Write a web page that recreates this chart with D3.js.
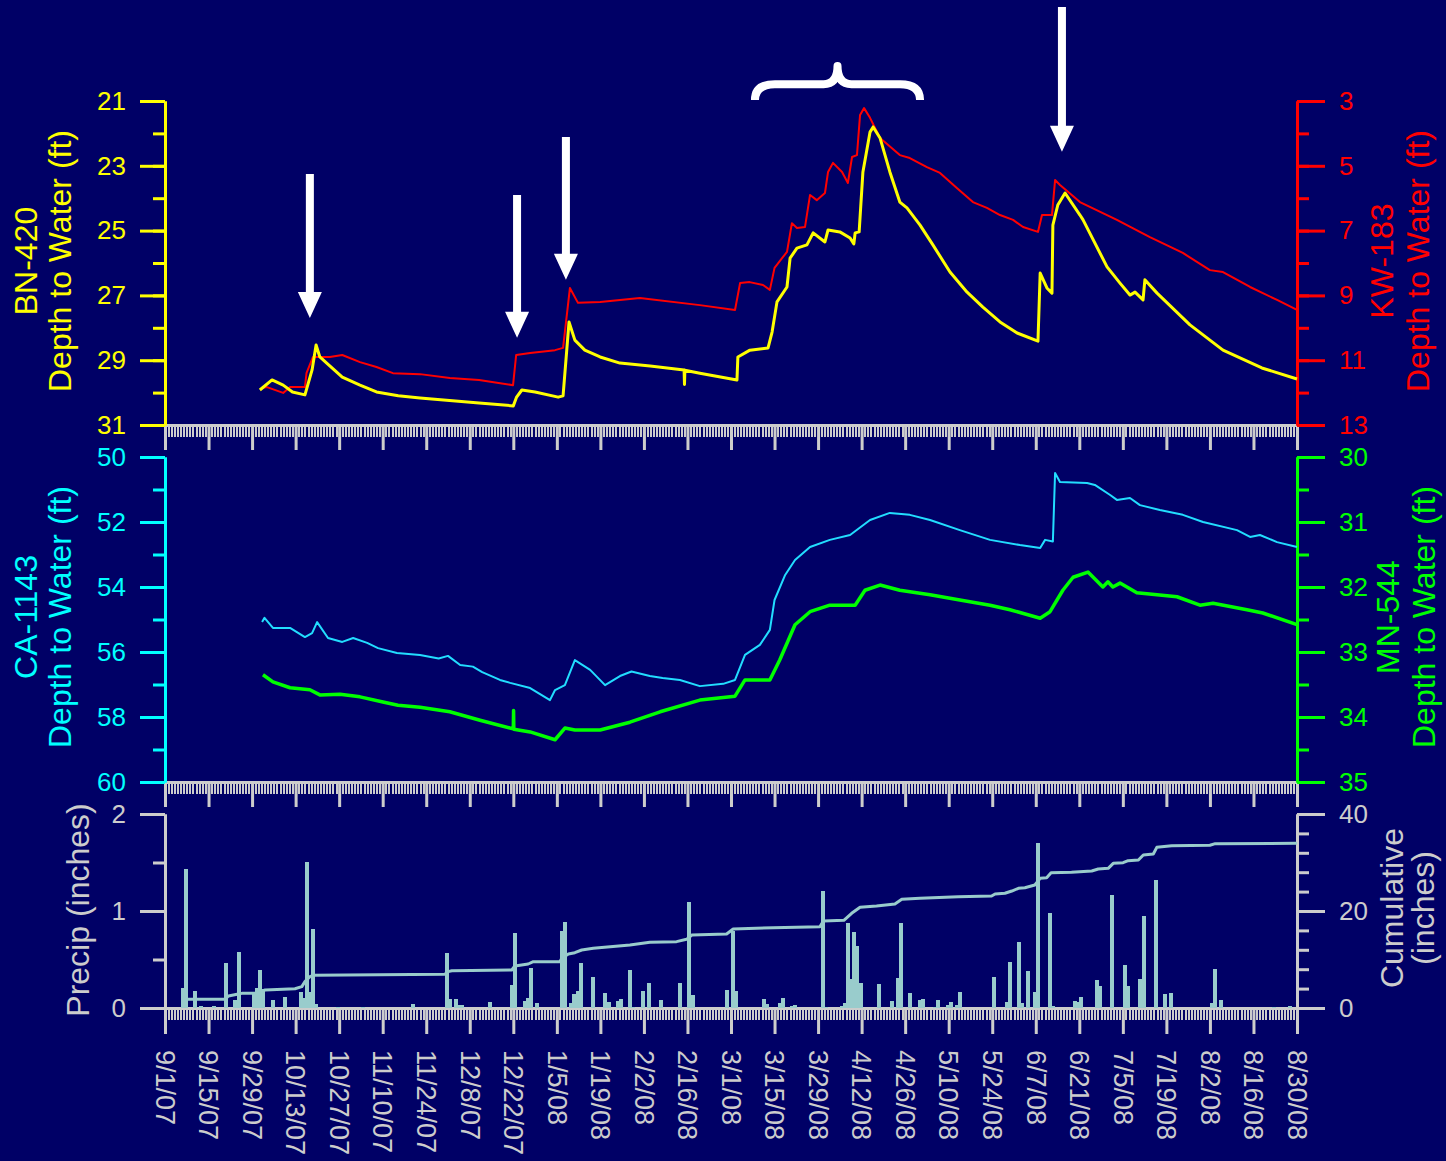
<!DOCTYPE html>
<html>
<head>
<meta charset="utf-8">
<script src="https://cdn.jsdelivr.net/npm/d3@7"></script>
<style>
  body { margin: 0; background: #000066; }
  svg { display: block; font-family: "Liberation Sans", Arial, sans-serif; }
</style>
</head>
<body>
<svg id="chart" width="1446" height="1161"></svg>
<script>
// ---- data ----
var dateTicks = ["9/1/07", "9/15/07", "9/29/07", "10/13/07", "10/27/07", "11/10/07", "11/24/07",
  "12/8/07", "12/22/07", "1/5/08", "1/19/08", "2/2/08", "2/16/08", "3/1/08", "3/15/08", "3/29/08",
  "4/12/08", "4/26/08", "5/10/08", "5/24/08", "6/7/08", "6/21/08", "7/5/08", "7/19/08", "8/2/08",
  "8/16/08", "8/30/08"];

// BN-420 depth to water (ft), left axis of top panel
var bnDates = ["10/1/07 12", "10/5/07 10", "10/9/07", "10/12/07", "10/16/07", "10/18/07 7", "10/19/07 14",
  "10/20/07 19", "10/23/07", "10/28/07", "11/2/07 17", "11/8/07", "11/15/07", "11/22/07", "12/11/07",
  "12/22/07", "12/23/07", "12/24/07 18", "12/29/07", "1/5/08 10", "1/7/08", "1/8/08 22", "1/10/08 19",
  "1/14/08", "1/18/08 22", "1/25/08 7", "2/4/08", "2/14/08 22", "2/15/08 1", "2/15/08 4", "2/20/08",
  "3/2/08 22", "3/3/08 5", "3/7/08 2", "3/12/08 22", "3/14/08 5", "3/15/08 19", "3/19/08", "3/20/08",
  "3/22/08 5", "3/25/08 10", "3/27/08 10", "3/31/08 5", "4/1/08 5", "4/5/08", "4/8/08 7", "4/9/08 12",
  "4/9/08 22", "4/11/08 5", "4/12/08 10", "4/14/08 17", "4/15/08 17", "4/17/08 22", "4/21/08 2",
  "4/24/08 7", "4/26/08 14", "4/30/08 19", "5/4/08 22", "5/10/08 10", "5/15/08 22", "5/21/08",
  "5/26/08 12", "6/1/08", "6/7/08 17", "6/8/08 10", "6/10/08 14", "6/12/08 5", "6/12/08 12",
  "6/14/08 2", "6/16/08 10", "6/21/08 5", "6/22/08 5", "6/29/08 22", "7/4/08 2", "7/7/08 7",
  "7/8/08 22", "7/11/08 12", "7/12/08 2", "7/16/08", "7/26/08 14", "8/6/08 5", "8/18/08 17", "8/30/08"];
var bnDepth = [29.92, 29.61, 29.77, 29.98, 30.07, 29.30, 28.53,
  28.90, 29.09, 29.52, 29.77, 29.98, 30.10, 30.17, 30.32,
  30.41, 30.15, 29.92, 29.98, 30.14, 30.10, 27.82, 28.38,
  28.69, 28.90, 29.09, 29.18, 29.30, 29.75, 29.31, 29.40,
  29.61, 28.90, 28.69, 28.62, 28.13, 27.20, 26.74, 25.85,
  25.54, 25.44, 25.07, 25.35, 24.98, 25.04, 25.23, 25.41,
  25.07, 25.04, 23.19, 21.96, 21.80, 22.14, 23.19,
  24.12, 24.30, 24.83, 25.44, 26.28, 26.90, 27.36,
  27.82, 28.16, 28.41, 26.31, 26.77, 26.93, 24.83,
  24.21, 23.84, 24.52, 24.67, 26.12, 26.62, 26.99,
  26.90, 27.14, 26.52, 26.93, 27.91, 28.69, 29.24, 29.58];

// KW-183 depth to water (ft), right axis of top panel
var kwDates = ["10/2/07 5", "10/3/07 19", "10/9/07", "10/11/07 5", "10/16/07", "10/16/07 12", "10/18/07 14",
  "10/24/07", "10/28/07", "11/2/07 17", "11/8/07", "11/13/07 7", "11/22/07", "12/1/07 14", "12/11/07",
  "12/21/07 22", "12/22/07 22", "12/27/07 10", "1/4/08 10", "1/7/08", "1/9/08 5", "1/11/08 19",
  "1/18/08 22", "1/31/08 17", "2/20/08", "3/2/08 7", "3/3/08 22", "3/7/08", "3/11/08 7", "3/13/08 12",
  "3/15/08", "3/17/08 10", "3/19/08", "3/20/08 14", "3/22/08 5", "3/24/08 19", "3/26/08 10",
  "3/28/08 14", "3/31/08 5", "4/1/08 5", "4/2/08 19", "4/5/08 17", "4/7/08 14", "4/8/08 22",
  "4/10/08 12", "4/11/08 12", "4/12/08 19", "4/14/08 17", "4/17/08 22", "4/24/08 7", "4/27/08 12",
  "5/3/08", "5/7/08 5", "5/12/08 17", "5/17/08 19", "5/22/08 7", "5/26/08 12", "5/30/08 17",
  "6/2/08 22", "6/7/08 17", "6/9/08", "6/12/08 5", "6/13/08 5", "6/14/08 19", "6/21/08 5",
  "7/3/08 2", "7/13/08 17", "7/24/08 7", "8/2/08", "8/6/08 5", "8/14/08 22", "8/23/08 14", "8/30/08"];
var kwDepth = [11.86, 11.83, 12.01, 11.83, 11.83, 11.40, 10.90,
  10.90, 10.84, 11.06, 11.21, 11.40, 11.43, 11.55, 11.61,
  11.77, 10.84, 10.78, 10.69, 10.62, 8.77, 9.23,
  9.20, 9.08, 9.30, 9.45, 8.62, 8.59, 8.68, 8.83,
  8.15, 7.85, 7.66, 6.77, 6.92, 6.89, 5.90,
  6.06, 5.84, 5.19, 4.91, 5.19, 5.53, 4.73,
  4.67, 3.43, 3.22, 3.52, 4.14, 4.67, 4.76,
  5.04, 5.22, 5.69, 6.12, 6.30, 6.52, 6.67,
  6.89, 7.04, 6.52, 6.52, 5.44, 5.59, 6.12,
  6.67, 7.20, 7.69, 8.22, 8.28, 8.74, 9.14, 9.45];

// CA-1143 depth to water (ft), left axis of middle panel
var caDates = ["10/2/07 5", "10/3/07", "10/5/07 17", "10/11/07 5", "10/16/07", "10/18/07 7", "10/19/07 22",
  "10/23/07 10", "10/28/07", "10/31/07 12", "11/5/07", "11/8/07 12", "11/14/07 14", "11/22/07",
  "11/28/07", "12/1/07", "12/4/07 22", "12/9/07", "12/12/07", "12/17/07 17", "12/21/07", "12/27/07 10",
  "1/2/08 19", "1/4/08 10", "1/7/08 14", "1/10/08 19",
  "1/15/08 17", "1/20/08 12", "1/25/08 7", "1/29/08", "2/3/08 22", "2/8/08", "2/13/08 14", "2/20/08",
  "2/27/08 12",
  "3/2/08 7", "3/5/08 12", "3/10/08 7", "3/13/08 12", "3/15/08", "3/18/08 10", "3/21/08 14",
  "3/26/08 10", "4/1/08 19", "4/8/08 7", "4/14/08 17", "4/21/08 2", "4/27/08 12", "5/4/08",
  "5/13/08 14", "5/23/08 7", "6/1/08 22", "6/8/08 10", "6/10/08", "6/12/08 12", "6/13/08 5",
  "6/14/08 19", "6/23/08 12", "6/26/08", "6/30/08 22", "7/3/08 2", "7/7/08 7", "7/10/08 12",
  "7/16/08 22", "7/24/08 7", "7/30/08 19", "8/10/08 17", "8/14/08 22", "8/18/08 2", "8/23/08 14", "8/30/08"];
var caDepth = [55.08, 54.95, 55.26, 55.26, 55.54, 55.42, 55.08,
  55.57, 55.69, 55.57, 55.72, 55.88, 56.03, 56.09,
  56.20, 56.12, 56.40, 56.45, 56.62, 56.86, 56.95, 57.11,
  57.48, 57.17, 57.02, 56.25,
  56.55, 57.02, 56.74, 56.60, 56.74, 56.80, 56.86, 57.05,
  56.98,
  56.86, 56.09, 55.78, 55.32, 54.40, 53.63, 53.17,
  52.77, 52.55, 52.40, 51.94, 51.72, 51.78, 51.94,
  52.25, 52.55, 52.71, 52.80, 52.55, 52.60, 50.49,
  50.77, 50.80, 50.86, 51.17, 51.32, 51.26, 51.48,
  51.63, 51.78, 52.00, 52.25, 52.46, 52.40, 52.62, 52.77];

// MN-544 depth to water (ft), right axis of middle panel
var mnDates = ["10/2/07 12", "10/5/07 17", "10/11/07 5", "10/17/07 14", "10/20/07 19", "10/27/07 7",
  "11/2/07 17", "11/10/07 2", "11/14/07 22", "11/22/07", "12/1/07 14", "12/11/07 7", "12/20/07 22",
  "12/22/07", "12/22/07 2", "12/22/07 4", "12/27/07 10", "1/4/08 10", "1/7/08 14", "1/10/08 19",
  "1/18/08 22", "1/28/08 12", "2/7/08 5", "2/20/08", "3/2/08 7", "3/5/08 12", "3/13/08 12",
  "3/16/08 17", "3/21/08 14", "3/26/08 10", "4/1/08 19", "4/9/08 22", "4/13/08 2", "4/17/08 22",
  "4/24/08 7", "5/4/08", "5/13/08 14", "5/23/08 7", "5/29/08 17", "6/8/08 10", "6/11/08 14",
  "6/15/08 17", "6/19/08", "6/23/08 19", "6/28/08 14", "6/30/08 5", "7/1/08 19", "7/4/08 2",
  "7/9/08 12", "7/16/08", "7/22/08 10", "7/29/08 19", "8/3/08", "8/13/08 22", "8/19/08", "8/30/08"];
var mnDepth = [33.35, 33.46, 33.55, 33.58, 33.66, 33.65,
  33.69, 33.77, 33.82, 33.85, 33.92, 34.05, 34.17,
  34.18, 33.90, 34.19, 34.23, 34.35, 34.17, 34.20,
  34.20, 34.08, 33.92, 33.74, 33.68, 33.43, 33.43,
  33.12, 32.58, 32.38, 32.28, 32.28, 32.05, 31.97,
  32.05, 32.12, 32.20, 32.28, 32.35, 32.48, 32.38,
  32.05, 31.85, 31.77, 32.00, 31.92, 32.00, 31.94,
  32.09, 32.12, 32.15, 32.28, 32.25, 32.35, 32.40, 32.58];

// daily precipitation (inches)
var precipDates = ["9/6/07", "9/7/07", "9/10/07", "9/12/07", "9/16/07", "9/20/07", "9/23/07", "9/24/07",
  "9/29/07", "9/30/07", "10/1/07", "10/2/07", "10/5/07", "10/9/07", "10/14/07", "10/15/07", "10/16/07",
  "10/17/07", "10/18/07", "10/19/07", "10/26/07", "11/3/07", "11/19/07", "11/30/07", "12/1/07",
  "12/3/07", "12/4/07", "12/5/07", "12/14/07", "12/21/07", "12/22/07", "12/25/07", "12/26/07",
  "12/27/07", "12/29/07", "1/6/08", "1/7/08", "1/9/08", "1/10/08", "1/11/08", "1/12/08", "1/16/08",
  "1/20/08", "1/21/08", "1/24/08", "1/25/08", "1/28/08", "1/29/08", "2/1/08", "2/3/08", "2/7/08",
  "2/13/08", "2/16/08", "2/17/08", "2/28/08", "3/1/08", "3/2/08", "3/11/08", "3/12/08", "3/16/08",
  "3/17/08", "3/20/08", "3/21/08", "3/30/08", "3/31/08", "4/5/08", "4/6/08", "4/7/08", "4/8/08",
  "4/9/08", "4/10/08", "4/11/08", "4/17/08", "4/21/08", "4/23/08", "4/24/08", "4/27/08", "4/30/08",
  "5/1/08", "5/5/08", "5/6/08", "5/9/08", "5/10/08", "5/12/08", "5/13/08", "5/24/08", "5/28/08",
  "5/29/08", "6/1/08", "6/2/08", "6/4/08", "6/6/08", "6/7/08", "6/11/08", "6/12/08", "6/19/08",
  "6/20/08", "6/21/08", "6/26/08", "6/27/08", "7/1/08", "7/5/08", "7/6/08", "7/10/08", "7/11/08",
  "7/15/08", "7/18/08", "7/20/08", "8/2/08", "8/3/08", "8/5/08", "8/22/08", "8/27/08"];
var precipInches = [0.21, 1.43, 0.18, 0.02, 0.02, 0.46, 0.08, 0.58,
  0.15, 0.21, 0.39, 0.20, 0.08, 0.11, 0.16, 0.10, 1.51,
  0.17, 0.81, 0.04, 0.01, 0.01, 0.04, 0.57, 0.09,
  0.09, 0.03, 0.03, 0.06, 0.24, 0.77, 0.07, 0.10,
  0.41, 0.05, 0.79, 0.89, 0.05, 0.14, 0.18, 0.46, 0.32,
  0.15, 0.06, 0.07, 0.09, 0.39, 0.01, 0.18, 0.26, 0.08,
  0.26, 1.09, 0.13, 0.19, 0.79, 0.18, 0.09, 0.04, 0.05,
  0.10, 0.02, 0.03, 1.21, 0.01, 0.02, 0.05, 0.88, 0.30,
  0.78, 0.64, 0.26, 0.25, 0.07, 0.31, 0.88, 0.15, 0.08,
  0.09, 0.01, 0.08, 0.03, 0.06, 0.03, 0.16, 0.32, 0.06,
  0.47, 0.68, 0.05, 0.38, 0.17, 1.70, 0.98, 0.02, 0.07,
  0.06, 0.11, 0.29, 0.23, 1.16, 0.44, 0.23, 0.30, 0.95,
  1.32, 0.14, 0.15, 0.05, 0.40, 0.08, 0.01, 0.02];

// cumulative precipitation (inches), right axis of bottom panel
var cumDates = ["9/7/07 17", "9/20/07 7", "9/21/07 10", "9/24/07 14", "9/25/07 17", "9/29/07 22",
  "10/3/07 5", "10/12/07 19", "10/15/07", "10/16/07", "10/17/07 14", "10/18/07 17", "11/30/07",
  "12/1/07 2", "12/2/07 5", "12/21/07 12", "12/22/07 12", "12/26/07 19", "12/28/07 10", "1/6/08",
  "1/6/08 14", "1/8/08 17", "1/10/08 19", "1/13/08", "1/16/08 17", "1/28/08 12", "2/3/08 22",
  "2/12/08 12", "2/15/08 17", "2/17/08 10", "2/28/08 14", "3/1/08 17", "3/14/08 14", "3/29/08 14",
  "3/30/08 17", "4/6/08 7", "4/8/08 19", "4/11/08 12", "4/16/08 19", "4/22/08 17", "4/24/08 22",
  "4/30/08 19", "5/13/08 2", "5/23/08 19", "5/24/08 22", "5/28/08 2", "5/30/08 7", "6/1/08 10",
  "6/3/08 12", "6/6/08 17", "6/8/08 10", "6/10/08 12", "6/11/08 22", "6/18/08 12", "6/25/08",
  "6/27/08 2", "6/30/08 7", "7/1/08 22", "7/5/08 2", "7/6/08 17", "7/10/08", "7/11/08 14",
  "7/14/08 19", "7/15/08 22", "7/20/08 17", "8/2/08", "8/3/08 17", "8/30/08"];
var cumInches = [1.79, 1.79, 2.47, 2.89, 3.02, 3.02,
  3.71, 3.98, 4.40, 5.43, 6.46, 6.74, 6.95,
  7.49, 7.69, 7.84, 8.66, 9.07, 9.55, 9.55,
  10.25, 11.13, 11.40, 11.96, 12.30, 12.99, 13.54,
  13.68, 14.16, 15.05, 15.26, 16.29, 16.56, 16.77,
  17.94, 18.08, 19.52, 20.76, 21.03, 21.44, 22.41,
  22.62, 22.95, 23.09, 23.51, 23.65, 24.12, 24.68,
  24.80, 25.36, 26.74, 26.87, 27.90, 27.98, 28.25,
  28.66, 28.80, 29.83, 29.96, 30.37, 30.52, 31.55,
  31.75, 33.13, 33.46, 33.55, 33.88, 33.96];

// white annotations (arrows in BN-420 units, brace over the spring rise)
var arrowDates = ["10/17/07 14", "12/23/07 5", "1/7/08 22", "6/15/08 10"];
var arrowTop = [23.25, 23.9, 22.11, 18.1];
var arrowTip = [27.7, 28.31, 26.52, 22.57];
var braceFrom = "3/8/08 17", braceTo = "4/30/08 19";

// ---- setup ----
var p1 = d3.utcParse("%m/%d/%y"), p2 = d3.utcParse("%m/%d/%y %H");
function parse(s) { return p2(s) || p1(s); }
function rows(dates, vals) {
    return d3.zip(dates, vals).map(function (d) { return { date: parse(d[0]), v: d[1] }; });
}

const svg = d3.select("#chart");
const L = 165, R = 1297;
const gray = "#cccccc";

svg.append("rect").attr("width", 1446).attr("height", 1161).attr("fill", "#000066");

const x = d3.scaleUtc().domain([parse(dateTicks[0]), parse(dateTicks[dateTicks.length - 1])]).range([L, R]);

const yBN = d3.scaleLinear().domain([21, 31]).range([101, 425]);
const yKW = d3.scaleLinear().domain([3, 13]).range([101, 425]);
const yCA = d3.scaleLinear().domain([50, 60]).range([457, 782]);
const yMN = d3.scaleLinear().domain([30, 35]).range([457, 782]);
const yP = d3.scaleLinear().domain([0, 2]).range([1008, 814]);
const yC = d3.scaleLinear().domain([0, 40]).range([1008, 814]);

// y axis with long labelled ticks and short minor ticks
function yAxis(scale, side, majors, minors, color, majorLen) {
    const pos = side === "left" ? L : R;
    const maker = side === "left" ? d3.axisLeft : d3.axisRight;
    const gMin = svg.append("g")
        .attr("transform", `translate(${pos},0)`)
        .attr("color", color)
        .call(maker(scale).tickValues(minors).tickSize(12).tickSizeOuter(0).tickFormat(""));
    const gMaj = svg.append("g")
        .attr("transform", `translate(${pos},0)`)
        .attr("color", color)
        .call(maker(scale).tickValues(majors).tickSize(majorLen).tickSizeOuter(0).tickPadding(14)
            .tickFormat(d3.format("d")));
    [gMin, gMaj].forEach(function (g) {
        g.selectAll("line, path").attr("stroke-width", 3);
    });
    gMaj.selectAll("text")
        .attr("font-size", 26)
        .attr("font-family", "'Liberation Sans', Arial, sans-serif")
        .attr("fill", color);
}

// date axis: daily minor ticks, two-week major ticks
function xAxis(yPos, minorLen, majorLen, labels) {
    const days = d3.utcDay.range(x.domain()[0], d3.utcDay.offset(x.domain()[1], 1));
    const gMin = svg.append("g")
        .attr("transform", `translate(0,${yPos})`)
        .attr("color", gray)
        .call(d3.axisBottom(x).tickValues(days).tickSize(minorLen).tickSizeOuter(0).tickFormat(""));
    gMin.selectAll("line").attr("stroke-width", 2).attr("shape-rendering", "crispEdges");
    gMin.select("path").attr("stroke-width", 3);
    const gMaj = svg.append("g")
        .attr("transform", `translate(0,${yPos})`)
        .attr("color", gray)
        .call(d3.axisBottom(x).tickValues(dateTicks.map(parse)).tickSize(majorLen).tickSizeOuter(0)
            .tickFormat(function (d, i) { return labels ? dateTicks[i] : ""; }));
    gMaj.selectAll("line").attr("stroke-width", 3);
    gMaj.select("path").remove();
    if (labels) {
        gMaj.selectAll("text")
            .attr("y", 0)
            .attr("x", 42)
            .attr("dy", "0.36em")
            .attr("transform", "rotate(90)")
            .attr("text-anchor", "start")
            .attr("font-size", 27)
            .attr("font-family", "'Liberation Sans', Arial, sans-serif")
            .attr("fill", gray);
    }
}

// rotated axis titles, one text per line
function title(lines, xs, cy, color) {
    lines.forEach(function (t, i) {
        svg.append("text")
            .attr("transform", `translate(${xs[i]},${cy}) rotate(-90)`)
            .attr("text-anchor", "middle")
            .attr("font-size", 32)
            .attr("fill", color)
            .text(t);
    });
}

// ---- axes ----
xAxis(425, 12, 25, false);
xAxis(782, 12, 25, false);
xAxis(1008, 12, 26, true);

yAxis(yBN, "left", d3.range(21, 32, 2), d3.range(21, 32, 1), "#ffff00", 25);
yAxis(yKW, "right", d3.range(3, 14, 2), d3.range(3, 14, 1), "#ff0000", 28);
yAxis(yCA, "left", d3.range(50, 61, 2), d3.range(50, 61, 1), "#00ffff", 25);
yAxis(yMN, "right", d3.range(30, 36, 1), d3.range(30, 35.5, 0.5), "#00ff00", 28);
yAxis(yP, "left", [0, 1, 2], [0, 0.5, 1, 1.5, 2], gray, 25);
yAxis(yC, "right", [0, 20, 40], d3.range(0, 41, 4), gray, 28);

title(["BN-420", "Depth to Water (ft)"], [37, 71], 261, "#ffff00");
title(["KW-183", "Depth to Water (ft)"], [1393, 1429], 261, "#ff0000");
title(["CA-1143", "Depth to Water (ft)"], [37, 71], 617, "#00ffff");
title(["MN-544", "Depth to Water (ft)"], [1399, 1435], 617, "#00ff00");
title(["Precip (inches)"], [89], 910, gray);
title(["Cumulative", "(inches)"], [1403, 1434], 908, gray);

// ---- precipitation bars and cumulative line ----
svg.append("g")
    .attr("shape-rendering", "crispEdges")
    .selectAll("rect")
    .data(rows(precipDates, precipInches))
    .enter()
    .append("rect")
    .attr("x", (d) => Math.round(x(d.date)))
    .attr("y", (d) => yP(d.v))
    .attr("width", 4)
    .attr("height", (d) => yP(0) - yP(d.v))
    .attr("fill", "#99cccc");

function series(dates, vals, yScale, color, width) {
    svg.append("path")
        .datum(rows(dates, vals))
        .attr("fill", "none")
        .attr("stroke", color)
        .attr("stroke-width", width)
        .attr("stroke-linejoin", "round")
        .attr("d", d3.line().x((d) => x(d.date)).y((d) => yScale(d.v)));
}

series(cumDates, cumInches, yC, "#99cccc", 3);

// ---- water level lines ----
series(kwDates, kwDepth, yKW, "#ff0000", 2);
series(bnDates, bnDepth, yBN, "#ffff00", 3);
series(caDates, caDepth, yCA, "#22ddff", 2);
series(mnDates, mnDepth, yMN, "#00ff00", 3.5);

// ---- annotations ----
arrowDates.forEach(function (d, i) {
    const cx = x(parse(d)), top = yBN(arrowTop[i]), tip = yBN(arrowTip[i]);
    const headY = tip - 26;
    svg.append("path")
        .attr("d", `M${cx - 4},${top}H${cx + 4}V${headY}H${cx + 12}L${cx},${tip}L${cx - 12},${headY}H${cx - 4}Z`)
        .attr("fill", "#ffffff");
});

const bx0 = x(parse(braceFrom)), bx1 = x(parse(braceTo)), bxm = (bx0 + bx1) / 2;
const yEnd = yBN(20.97), yBar = yBN(20.48), yTip = yBN(19.92);
svg.append("path")
    .attr("d", `M${bx0},${yEnd}Q${bx0},${yBar} ${bx0 + 20},${yBar}H${bxm - 14}` +
        `Q${bxm},${yBar} ${bxm},${yTip}Q${bxm},${yBar} ${bxm + 14},${yBar}H${bx1 - 20}` +
        `Q${bx1},${yBar} ${bx1},${yEnd}`)
    .attr("fill", "none")
    .attr("stroke", "#ffffff")
    .attr("stroke-width", 8)
    .attr("stroke-linejoin", "round");
</script>
</body>
</html>
